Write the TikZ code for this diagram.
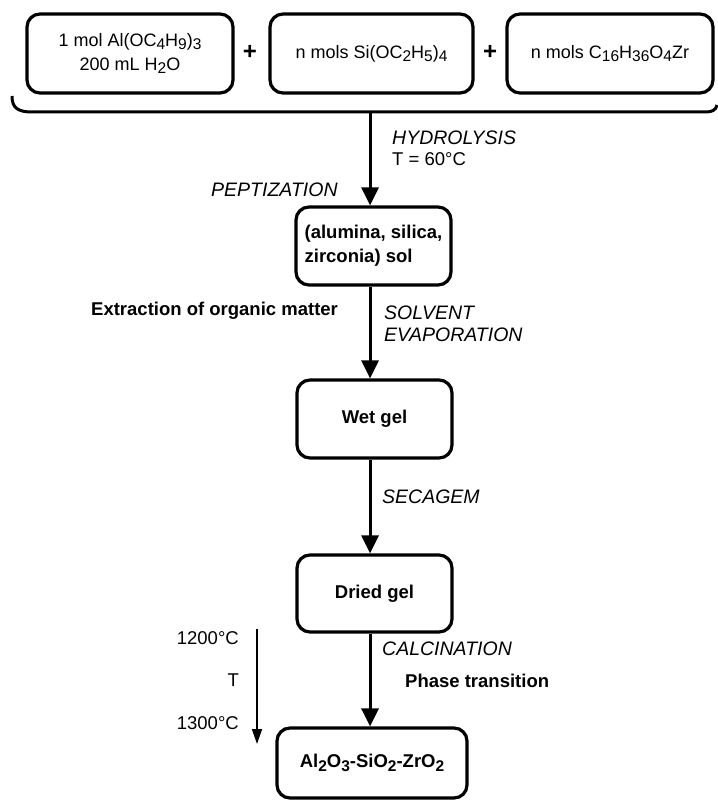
\documentclass[tikz,border=0pt]{standalone}
\usepackage{fontspec}
\setmainfont{Liberation Sans}
\usetikzlibrary{arrows.meta}
\newcommand{\lsub}[1]{\raisebox{-0.4ex}{\fontsize{15.5}{15.5}\selectfont #1}}
\tikzset{
  box/.style={draw, line width=3.2pt, rounded corners=13pt, align=center, inner sep=2pt},
  mainarrow/.style={line width=3pt, -{Triangle[width=17pt,length=18pt]}},
  thinarrow/.style={line width=1.8pt, -{Triangle[width=10pt,length=15pt]}},
  lbl/.style={font=\fontsize{19.5}{22}\selectfont\itshape, inner sep=0pt, align=left},
  blbl/.style={font=\fontsize{18.5}{22}\selectfont\bfseries, inner sep=0pt},
  nlbl/.style={font=\fontsize{18.5}{22}\selectfont, inner sep=0pt},
  topfont/.style={font=\fontsize{18}{27}\selectfont},
  boxfont/.style={font=\fontsize{18.5}{24}\selectfont\bfseries},
}
\begin{document}
\begin{tikzpicture}[x=1pt,y=-1pt]
\useasboundingbox[fill=white] (0,0) rectangle (717,802);
% top boxes
\node[box, topfont, minimum width=206pt, minimum height=79pt] (b1) at (130,53.5) {1 mol Al(OC\lsub{4}H\lsub{9})\lsub{3}\\[-3pt]200 mL H\lsub{2}O};
\node[box, topfont, minimum width=203pt, minimum height=79pt] (b2) at (371.5,53.5) {n mols Si(OC\lsub{2}H\lsub{5})\lsub{4}};
\node[box, topfont, minimum width=206pt, minimum height=79pt] (b3) at (610,53.5) {n mols C\lsub{16}H\lsub{36}O\lsub{4}Zr};
\node[font=\fontsize{24}{24}\selectfont\bfseries, inner sep=0pt] (p1) at (250,52) {+};
\node[font=\fontsize{24}{24}\selectfont\bfseries, inner sep=0pt] (p2) at (490,52) {+};
% brace
\coordinate (bl) at (12,96);
\coordinate (br) at (717,105);
\coordinate (stem) at (370,112);
\draw[line width=3pt] (bl) .. controls (12,108) and (18,112) .. (32,112) -- (706,112) .. controls (712,112) and (716,110) .. (br);
% process boxes
\node[box, boxfont, minimum width=155pt, minimum height=78pt, align=left] (sol) at (373.5,246) {(alumina, silica,\\zirconia) sol};
\node[box, boxfont, minimum width=155pt, minimum height=78pt] (wet) at (374.5,419) {Wet gel};
\node[box, boxfont, minimum width=155pt, minimum height=77pt] (dry) at (374.5,593.5) {Dried gel};
\node[box, boxfont, minimum width=190pt, minimum height=70pt] (fin) at (372,763) {Al\lsub{2}O\lsub{3}-SiO\lsub{2}-ZrO\lsub{2}};
% arrows
\draw[mainarrow] (stem) -- (sol.north -| stem);
\draw[mainarrow] (sol.south -| stem) -- (wet.north -| stem);
\draw[mainarrow] (wet.south -| stem) -- (dry.north -| stem);
\draw[mainarrow] (dry.south -| stem) -- (fin.north -| stem);
% labels
\node[lbl, anchor=west] (hyd) at (392,138) {HYDROLYSIS};
\node[nlbl, anchor=west] (t60) at (392,159) {T = 60°C};
\node[lbl, anchor=west] (pep) at (211,190) {PEPTIZATION};
\node[blbl, anchor=west] (ext) at (91,311) {Extraction of organic matter};
\node[lbl, anchor=west] (sol1) at (384,313) {SOLVENT};
\node[lbl, anchor=west] (sol2) at (384,335) {EVAPORATION};
\node[lbl, anchor=west] (sec) at (382,497) {SECAGEM};
\node[lbl, anchor=west] (cal) at (382,649) {CALCINATION};
\node[blbl, anchor=west] (pha) at (405,681) {Phase transition};
% temperature arrow
\coordinate (ta) at (257,629);
\coordinate (tb) at (257,744);
\draw[thinarrow] (ta) -- (tb);
\node[nlbl, anchor=east] (t1) at (239,638) {1200°C};
\node[nlbl, anchor=east] (tt) at (239,680) {T};
\node[nlbl, anchor=east] (t2) at (239,723) {1300°C};
\end{tikzpicture}
\end{document}
